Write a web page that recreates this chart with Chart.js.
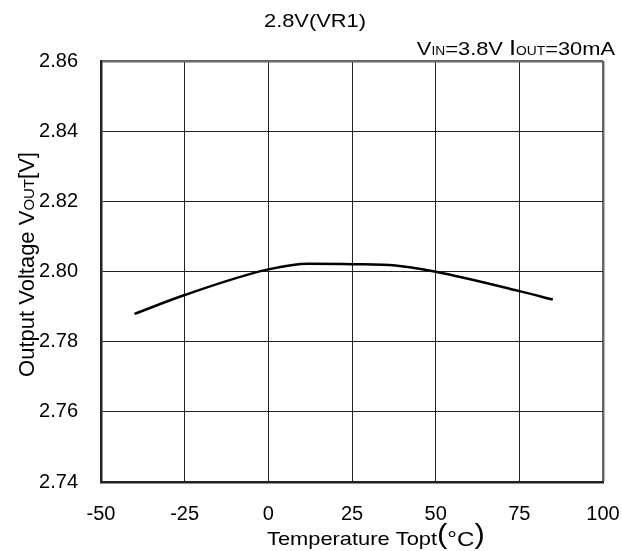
<!DOCTYPE html>
<html>
<head>
<meta charset="utf-8">
<script src="https://cdn.jsdelivr.net/npm/chart.js@4.4.1/dist/chart.umd.min.js"></script>
<style>
  html, body { margin: 0; padding: 0; background: #fff; }
  #wrap { width: 622px; height: 551px; }
</style>
</head>
<body>
<div id="wrap"><canvas id="c" width="622" height="551"></canvas></div>
<script>
// ---- data ----
const temperatures = [-40, -25, 0, 12, 25, 38, 50, 75, 85];
const voltages = [2.7879, 2.7933, 2.8006, 2.8022, 2.8021, 2.8017, 2.7999, 2.7944, 2.7920];
const xTicks = [-50, -25, 0, 25, 50, 75, 100];
const yTicks = [2.74, 2.76, 2.78, 2.80, 2.82, 2.84, 2.86];
const titleText = "2.8V(VR1)";

const FONT = "'Liberation Sans', Arial, Helvetica, sans-serif";
const SX = 1.15; // horizontal glyph stretch seen in the reference

function drawRuns(ctx, runs, x, y, align, sx, sy) {
  ctx.save();
  let total = 0;
  runs.forEach(r => { ctx.font = r.size + 'px ' + FONT; r.w = ctx.measureText(r.t).width; total += r.w; });
  ctx.translate(x, y);
  ctx.scale(sx, sy);
  let cx = align === 'right' ? -total : (align === 'center' ? -total / 2 : 0);
  ctx.fillStyle = '#000';
  ctx.textBaseline = 'alphabetic';
  ctx.textAlign = 'left';
  runs.forEach(r => {
    ctx.font = r.size + 'px ' + FONT;
    ctx.fillText(r.t, cx, r.dy || 0);
    cx += r.w;
  });
  ctx.restore();
}

const textPlugin = {
  id: 'texts',
  afterDraw(chart) {
    const ctx = chart.ctx;
    // title
    drawRuns(ctx, [{t: titleText, size: 19}], 315, 27, 'center', SX, 1);
    // conditions
    drawRuns(ctx, [
      {t: 'V', size: 19}, {t: 'IN', size: 12}, {t: '=3.8V ', size: 19},
      {t: 'I', size: 22}, {t: 'OUT', size: 12}, {t: '=30mA', size: 19}
    ], 615, 55, 'right', SX, 1);
    // x axis title
    drawRuns(ctx, [
      {t: 'Temperature Topt', size: 19},
      {t: '(', size: 27, dy: -2}, {t: '°C', size: 21, dy: 1}, {t: ')', size: 27, dy: -2}
    ], 267, 545, 'left', SX, 1);
    // y axis title (rotated)
    ctx.save();
    ctx.translate(34, 264.5);
    ctx.rotate(-Math.PI / 2);
    drawRuns(ctx, [
      {t: 'Output Voltage V', size: 22}, {t: 'OUT', size: 15}, {t: '[V]', size: 22}
    ], 0, 0, 'center', 1, 1);
    ctx.restore();
  }
};

new Chart(document.getElementById('c'), {
  type: 'scatter',
  data: {
    datasets: [{
      data: temperatures.map((t, i) => ({x: t, y: voltages[i]})),
      showLine: true,
      borderColor: '#000',
      borderWidth: 2.5,
      pointRadius: 0,
      cubicInterpolationMode: 'monotone',
      fill: false
    }]
  },
  options: {
    responsive: false,
    animation: false,
    devicePixelRatio: 1,
    layout: { padding: { left: 0, right: 0, top: 61, bottom: 0 } },
    plugins: { legend: { display: false }, tooltip: { enabled: false }, title: { display: false } },
    scales: {
      x: {
        type: 'linear',
        min: xTicks[0], max: xTicks[xTicks.length - 1],
        afterBuildTicks: (s) => { s.ticks = xTicks.map(v => ({value: v})); },
        afterFit: (s) => { s.height = 69; s.paddingRight = 19; },
        ticks: { color: '#000', font: { family: FONT, size: 20 }, padding: 20, maxRotation: 0, autoSkip: false },
        grid: {
          drawTicks: false,
          color: (c) => c.index === xTicks.length - 1 ? '#666' : '#222',
          lineWidth: (c) => c.index === xTicks.length - 1 ? 2.5 : 1
        },
        border: { color: '#222', width: 2.5 }
      },
      y: {
        type: 'linear',
        min: yTicks[0], max: yTicks[yTicks.length - 1],
        afterBuildTicks: (s) => { s.ticks = yTicks.map(v => ({value: v})); },
        afterFit: (s) => { s.width = 101; },
        ticks: { color: '#000', font: { family: FONT, size: 20 }, padding: 23, callback: (v) => Number(v).toFixed(2) },
        grid: {
          drawTicks: false,
          color: (c) => c.index === yTicks.length - 1 ? '#666' : '#222',
          lineWidth: (c) => c.index === yTicks.length - 1 ? 2.5 : 1
        },
        border: { color: '#222', width: 2.5 }
      }
    }
  },
  plugins: [textPlugin]
});
</script>
</body>
</html>
